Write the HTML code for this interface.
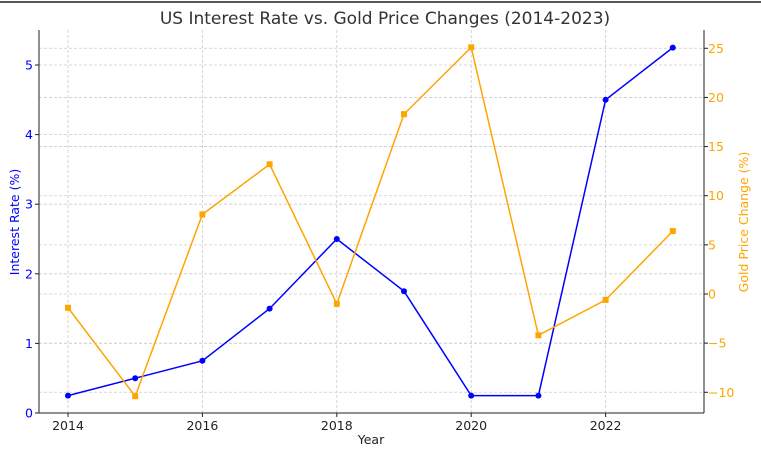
<!DOCTYPE html>
<html><head><meta charset="utf-8"><style>
body{margin:0;background:#fff;}
svg text{font-family:"DejaVu Sans","Liberation Sans",sans-serif;}
</style></head><body>
<svg id="c" width="761" height="456" xmlns="http://www.w3.org/2000/svg">
<line x1="0" y1="2" x2="761" y2="2" stroke="#222" stroke-width="1.5"/>
<text x="385" y="24" text-anchor="middle" font-size="17" fill="#333">US Interest Rate vs. Gold Price Changes (2014-2023)</text>
<g id="grid"></g><g id="axes"></g><g id="series"></g>
<text x="371" y="444" text-anchor="middle" font-size="12.5" fill="#222">Year</text>
<text transform="translate(19,222) rotate(-90)" text-anchor="middle" font-size="12.5" fill="blue">Interest Rate (%)</text>
<text transform="translate(748,222) rotate(-90)" text-anchor="middle" font-size="12.5" fill="orange">Gold Price Change (%)</text>
</svg>
<script>
const years=[2014,2015,2016,2017,2018,2019,2020,2021,2022,2023];
const rates=[0.25,0.5,0.75,1.5,2.5,1.75,0.25,0.25,4.5,5.25];
const gold=[-1.4,-10.4,8.1,13.2,-1.0,18.3,25.1,-4.2,-0.6,6.4];
const xTicks=[2014,2016,2018,2020,2022];
const leftTicks=[0,1,2,3,4,5];
const rightTicks=[-10,-5,0,5,10,15,20,25];
const NS="http://www.w3.org/2000/svg";
const L=39,R=704,T=30,B=413;
const x=v=>68+(v-2014)*67.2;
const yl=v=>413-v*(413-65)/5;
const yr=v=>294-v*(344/35);
function mk(p,tag,a){const e=document.createElementNS(NS,tag);for(const k in a)e.setAttribute(k,a[k]);document.getElementById(p).appendChild(e);return e;}
xTicks.forEach(t=>{
 const g=mk('grid','line',{x1:x(t),x2:x(t),y1:T,y2:B,stroke:'#ccc','stroke-dasharray':'3,2','stroke-width':0.8});
 
 
 mk('axes','line',{x1:x(t),x2:x(t),y1:B,y2:B+4,stroke:'#222'});
 const tx=mk('axes','text',{x:x(t),y:B+17,'text-anchor':'middle','font-size':12.5,fill:'#222'});tx.textContent=t;
 
 
});
leftTicks.forEach(t=>{
 const g=mk('grid','line',{x1:L,x2:R,y1:yl(t),y2:yl(t),stroke:'#ccc','stroke-dasharray':'3,2','stroke-width':0.8});
 
 
 mk('axes','line',{x1:L-4,x2:L,y1:yl(t),y2:yl(t),stroke:'#222'});
 const tx=mk('axes','text',{x:L-6,y:yl(t)+4.5,'text-anchor':'end','font-size':12.5,fill:'blue'});tx.textContent=t;
 
 
});
rightTicks.forEach(t=>{
 const g=mk('grid','line',{x1:L,x2:R,y1:yr(t),y2:yr(t),stroke:'#ccc','stroke-dasharray':'3,2','stroke-width':0.8});
 
 
 mk('axes','line',{x1:R,x2:R+4,y1:yr(t),y2:yr(t),stroke:'#222'});
 const tx=mk('axes','text',{x:R+4,y:yr(t)+4.5,'font-size':12.5,fill:'orange'});tx.textContent=(t<0?'\u2212'+(-t):t);
 
 
});
mk('axes','line',{x1:L,x2:L,y1:T,y2:B,stroke:'#222'});
mk('axes','line',{x1:R,x2:R,y1:T,y2:B,stroke:'#222'});
mk('axes','line',{x1:L,x2:R,y1:B,y2:B,stroke:'#222'});
const rl=mk('series','polyline',{points:years.map((y,i)=>x(y)+','+yl(rates[i])).join(' '),fill:'none',stroke:'blue','stroke-width':1.5});


const gl=mk('series','polyline',{points:years.map((y,i)=>x(y)+','+yr(gold[i])).join(' '),fill:'none',stroke:'orange','stroke-width':1.5});


years.forEach((y,i)=>{
 const c=mk('series','circle',{cx:x(y),cy:yl(rates[i]),r:3,fill:'blue'});
 
 
 const s=mk('series','rect',{x:x(y)-3,y:yr(gold[i])-3,width:6,height:6,fill:'orange'});
 
 
});
</script>
</body></html>
